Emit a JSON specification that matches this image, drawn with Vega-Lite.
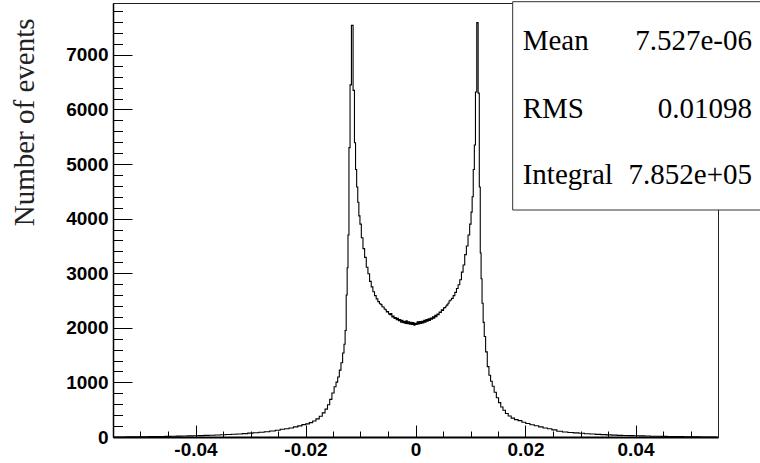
{
  "$schema": "https://vega.github.io/schema/vega-lite/v6.json",
  "description": "ROOT-style histogram with a double peak and a stats box.",
  "width": 605,
  "height": 434,
  "autosize": "none",
  "padding": {"left": 113, "top": 3, "right": 42, "bottom": 26},
  "background": "white",
  "datasets": {
    "hist": [
      {"x": -0.0548, "n": 0}, {"x": -0.054, "n": 1}, {"x": -0.053, "n": 1}, {"x": -0.052, "n": 2},
      {"x": -0.051, "n": 3}, {"x": -0.05, "n": 4}, {"x": -0.049, "n": 5}, {"x": -0.048, "n": 7},
      {"x": -0.047, "n": 8}, {"x": -0.046, "n": 10}, {"x": -0.045, "n": 12}, {"x": -0.044, "n": 14},
      {"x": -0.043, "n": 16}, {"x": -0.042, "n": 19}, {"x": -0.041, "n": 21}, {"x": -0.04, "n": 24},
      {"x": -0.039, "n": 26}, {"x": -0.038, "n": 30}, {"x": -0.037, "n": 32}, {"x": -0.036, "n": 37},
      {"x": -0.035, "n": 40}, {"x": -0.034, "n": 45}, {"x": -0.033, "n": 50}, {"x": -0.032, "n": 56},
      {"x": -0.031, "n": 62}, {"x": -0.03, "n": 71}, {"x": -0.029, "n": 77}, {"x": -0.028, "n": 87},
      {"x": -0.027, "n": 97}, {"x": -0.026, "n": 111}, {"x": -0.025, "n": 125}, {"x": -0.0242, "n": 141},
      {"x": -0.0234, "n": 150}, {"x": -0.0226, "n": 166}, {"x": -0.0218, "n": 186}, {"x": -0.021, "n": 204},
      {"x": -0.0203, "n": 226}, {"x": -0.0196, "n": 240}, {"x": -0.019, "n": 264}, {"x": -0.0184, "n": 292},
      {"x": -0.0178, "n": 332}, {"x": -0.0172, "n": 380}, {"x": -0.0167, "n": 442}, {"x": -0.0162, "n": 510},
      {"x": -0.0158, "n": 592}, {"x": -0.0154, "n": 690}, {"x": -0.015, "n": 805}, {"x": -0.0146, "n": 920},
      {"x": -0.0143, "n": 1005}, {"x": -0.014, "n": 1100}, {"x": -0.0137, "n": 1225}, {"x": -0.0134, "n": 1360},
      {"x": -0.0131, "n": 1540}, {"x": -0.0129, "n": 1700}, {"x": -0.0127, "n": 1950}, {"x": -0.0125, "n": 2600},
      {"x": -0.01235, "n": 3100}, {"x": -0.0122, "n": 3700}, {"x": -0.012, "n": 5300}, {"x": -0.0118, "n": 6450},
      {"x": -0.0115, "n": 7540}, {"x": -0.0112, "n": 6350}, {"x": -0.011, "n": 5390}, {"x": -0.0108, "n": 4900},
      {"x": -0.0106, "n": 4580}, {"x": -0.0104, "n": 4300}, {"x": -0.0102, "n": 4050}, {"x": -0.01, "n": 3900},
      {"x": -0.0097, "n": 3650}, {"x": -0.0094, "n": 3450}, {"x": -0.0091, "n": 3290}, {"x": -0.0088, "n": 3110},
      {"x": -0.0085, "n": 2990}, {"x": -0.0082, "n": 2850}, {"x": -0.0079, "n": 2750}, {"x": -0.0076, "n": 2660},
      {"x": -0.0073, "n": 2590}, {"x": -0.007, "n": 2530}, {"x": -0.0067, "n": 2480}, {"x": -0.0064, "n": 2440},
      {"x": -0.0062, "n": 2425}, {"x": -0.006, "n": 2385}, {"x": -0.0058, "n": 2380}, {"x": -0.0056, "n": 2345},
      {"x": -0.0054, "n": 2330}, {"x": -0.0052, "n": 2290}, {"x": -0.005, "n": 2300}, {"x": -0.0048, "n": 2255},
      {"x": -0.0046, "n": 2240}, {"x": -0.0044, "n": 2260}, {"x": -0.0042, "n": 2200}, {"x": -0.004, "n": 2215},
      {"x": -0.0038, "n": 2170}, {"x": -0.0036, "n": 2190}, {"x": -0.0034, "n": 2150}, {"x": -0.0032, "n": 2175},
      {"x": -0.003, "n": 2130}, {"x": -0.0028, "n": 2150}, {"x": -0.0026, "n": 2105}, {"x": -0.0024, "n": 2140},
      {"x": -0.0022, "n": 2095}, {"x": -0.002, "n": 2120}, {"x": -0.0018, "n": 2080}, {"x": -0.0016, "n": 2130},
      {"x": -0.0014, "n": 2075}, {"x": -0.0012, "n": 2110}, {"x": -0.001, "n": 2065}, {"x": -0.0008, "n": 2100},
      {"x": -0.0006, "n": 2060}, {"x": -0.0004, "n": 2095}, {"x": -0.0002, "n": 2050}, {"x": 0, "n": 2085},
      {"x": 0.0002, "n": 2060}, {"x": 0.0004, "n": 2110}, {"x": 0.0006, "n": 2070}, {"x": 0.0008, "n": 2115},
      {"x": 0.001, "n": 2080}, {"x": 0.0012, "n": 2120}, {"x": 0.0014, "n": 2090}, {"x": 0.0016, "n": 2140},
      {"x": 0.0018, "n": 2105}, {"x": 0.002, "n": 2150}, {"x": 0.0022, "n": 2120}, {"x": 0.0024, "n": 2165},
      {"x": 0.0026, "n": 2135}, {"x": 0.0028, "n": 2180}, {"x": 0.003, "n": 2160}, {"x": 0.0032, "n": 2200},
      {"x": 0.0034, "n": 2175}, {"x": 0.0036, "n": 2230}, {"x": 0.0038, "n": 2205}, {"x": 0.004, "n": 2250},
      {"x": 0.0042, "n": 2240}, {"x": 0.0044, "n": 2290}, {"x": 0.0046, "n": 2280}, {"x": 0.0048, "n": 2330},
      {"x": 0.005, "n": 2320}, {"x": 0.0052, "n": 2365}, {"x": 0.0054, "n": 2370}, {"x": 0.0056, "n": 2400},
      {"x": 0.0058, "n": 2420}, {"x": 0.006, "n": 2450}, {"x": 0.0062, "n": 2490}, {"x": 0.0064, "n": 2510},
      {"x": 0.0067, "n": 2540}, {"x": 0.007, "n": 2590}, {"x": 0.0073, "n": 2650}, {"x": 0.0076, "n": 2720},
      {"x": 0.0079, "n": 2790}, {"x": 0.0082, "n": 2880}, {"x": 0.0085, "n": 3020}, {"x": 0.0088, "n": 3150},
      {"x": 0.0091, "n": 3340}, {"x": 0.0094, "n": 3500}, {"x": 0.0097, "n": 3700}, {"x": 0.01, "n": 3900},
      {"x": 0.0102, "n": 4120}, {"x": 0.0104, "n": 4400}, {"x": 0.0106, "n": 4900}, {"x": 0.0108, "n": 5350},
      {"x": 0.011, "n": 6320}, {"x": 0.01128, "n": 7590}, {"x": 0.0115, "n": 6300}, {"x": 0.0117, "n": 4580},
      {"x": 0.01185, "n": 3370}, {"x": 0.012, "n": 2900}, {"x": 0.0122, "n": 2450}, {"x": 0.0124, "n": 2100},
      {"x": 0.0126, "n": 1840}, {"x": 0.0129, "n": 1560}, {"x": 0.0132, "n": 1290}, {"x": 0.0135, "n": 1130},
      {"x": 0.0138, "n": 1020}, {"x": 0.0141, "n": 930}, {"x": 0.0145, "n": 820}, {"x": 0.0149, "n": 720},
      {"x": 0.0153, "n": 630}, {"x": 0.0157, "n": 550}, {"x": 0.0161, "n": 490}, {"x": 0.0166, "n": 430},
      {"x": 0.0171, "n": 385}, {"x": 0.0177, "n": 345}, {"x": 0.0183, "n": 318}, {"x": 0.019, "n": 300},
      {"x": 0.0197, "n": 270}, {"x": 0.0204, "n": 248}, {"x": 0.0212, "n": 225}, {"x": 0.022, "n": 205},
      {"x": 0.0228, "n": 185}, {"x": 0.0236, "n": 165}, {"x": 0.0244, "n": 150}, {"x": 0.0252, "n": 130},
      {"x": 0.0262, "n": 105}, {"x": 0.0272, "n": 92}, {"x": 0.0282, "n": 82}, {"x": 0.0292, "n": 75},
      {"x": 0.0302, "n": 68}, {"x": 0.0312, "n": 60}, {"x": 0.0322, "n": 54}, {"x": 0.0332, "n": 48},
      {"x": 0.0342, "n": 43}, {"x": 0.0352, "n": 39}, {"x": 0.0362, "n": 34}, {"x": 0.0372, "n": 30},
      {"x": 0.0382, "n": 27}, {"x": 0.0392, "n": 25}, {"x": 0.0402, "n": 22}, {"x": 0.0412, "n": 20},
      {"x": 0.0422, "n": 17}, {"x": 0.0432, "n": 15}, {"x": 0.0442, "n": 13}, {"x": 0.0452, "n": 11},
      {"x": 0.0462, "n": 9}, {"x": 0.0472, "n": 8}, {"x": 0.0482, "n": 6}, {"x": 0.0492, "n": 5},
      {"x": 0.0502, "n": 3}, {"x": 0.0512, "n": 2}, {"x": 0.0522, "n": 1}, {"x": 0.0532, "n": 1},
      {"x": 0.0548, "n": 0}
    ],
    "stats": [
      {"stat": "Mean", "value": "7.527e-06"},
      {"stat": "RMS", "value": "0.01098"},
      {"stat": "Integral", "value": "7.852e+05"}
    ]
  },
  "resolve": {"axis": {"x": "independent", "y": "independent"}},
  "layer": [
    {
      "data": {"name": "hist"},
      "mark": {"type": "line", "interpolate": "step", "color": "black", "strokeWidth": 1.1},
      "encoding": {
        "x": {
          "field": "x",
          "type": "quantitative",
          "scale": {"domain": [-0.055, 0.055], "nice": false, "zero": false},
          "axis": {
            "orient": "bottom",
            "title": null,
            "grid": false,
            "values": [-0.04, -0.02, 0, 0.02, 0.04],
            "labelExpr": "'' + datum.value",
            "labelFont": "Liberation Sans",
            "labelFontWeight": "bold",
            "labelFontSize": 19,
            "labelColor": "black",
            "labelFlush": false,
            "labelPadding": 15,
            "tickSize": -12,
            "tickColor": "black",
            "tickWidth": 1,
            "domainColor": "black",
            "domainWidth": 2
          }
        },
        "y": {
          "field": "n",
          "type": "quantitative",
          "scale": {"domain": [0, 7950], "nice": false},
          "axis": {
            "orient": "left",
            "title": "Number of events",
            "titleFont": "Liberation Serif",
            "titleFontSize": 29,
            "titleFontWeight": "normal",
            "titleColor": "#222",
            "titleAnchor": "end",
            "titleAlign": "right",
            "titleBaseline": "alphabetic",
            "titleX": -80,
            "titleY": 15,
            "grid": false,
            "values": [0, 1000, 2000, 3000, 4000, 5000, 6000, 7000],
            "labelExpr": "'' + datum.value",
            "labelFont": "Liberation Sans",
            "labelFontWeight": "bold",
            "labelFontSize": 19,
            "labelColor": "black",
            "labelFlush": false,
            "labelPadding": 24,
            "tickSize": -19,
            "tickColor": "black",
            "tickWidth": 1,
            "domainColor": "black",
            "domainWidth": 1.5
          }
        }
      }
    },
    {
      "data": {"name": "hist"},
      "mark": {"type": "point", "opacity": 0},
      "encoding": {
        "x": {
          "field": "x",
          "type": "quantitative",
          "axis": {
            "orient": "bottom",
            "title": null,
            "grid": false,
            "labels": false,
            "domain": false,
            "values": [-0.05, -0.045, -0.04, -0.035, -0.03, -0.025, -0.02, -0.015, -0.01, -0.005, 0, 0.005, 0.01, 0.015, 0.02, 0.025, 0.03, 0.035, 0.04, 0.045, 0.05],
            "tickSize": -6,
            "tickColor": "black",
            "tickWidth": 1
          }
        },
        "y": {
          "field": "n",
          "type": "quantitative",
          "axis": {
            "orient": "left",
            "title": null,
            "grid": false,
            "labels": false,
            "domain": false,
            "values": [0, 200, 400, 600, 800, 1000, 1200, 1400, 1600, 1800, 2000, 2200, 2400, 2600, 2800, 3000, 3200, 3400, 3600, 3800, 4000, 4200, 4400, 4600, 4800, 5000, 5200, 5400, 5600, 5800, 6000, 6200, 6400, 6600, 6800, 7000, 7200, 7400, 7600, 7800],
            "tickSize": -9.5,
            "tickColor": "black",
            "tickWidth": 1
          }
        }
      }
    },
    {
      "data": {"values": [{}]},
      "mark": {"type": "rect", "fill": "white", "stroke": "#333", "strokeWidth": 1},
      "encoding": {
        "x": {"datum": 0.01767, "axis": null},
        "x2": {"datum": 0.08},
        "y": {"datum": 4158, "axis": null},
        "y2": {"datum": 7974}
      }
    },
    {
      "data": {"name": "stats"},
      "transform": [{"filter": "datum.stat === 'Mean'"}],
      "encoding": {"y": {"datum": 7089, "axis": null}},
      "layer": [
        {
          "mark": {"type": "text", "align": "left", "baseline": "alphabetic", "font": "Liberation Serif", "fontSize": 29, "color": "black"},
          "encoding": {"x": {"datum": 0.01949, "axis": null}, "text": {"field": "stat"}}
        },
        {
          "mark": {"type": "text", "align": "right", "baseline": "alphabetic", "font": "Liberation Serif", "fontSize": 29, "color": "black"},
          "encoding": {"x": {"datum": 0.06118, "axis": null}, "text": {"field": "value"}}
        }
      ]
    },
    {
      "data": {"name": "stats"},
      "transform": [{"filter": "datum.stat === 'RMS'"}],
      "encoding": {"y": {"datum": 5838, "axis": null}},
      "layer": [
        {
          "mark": {"type": "text", "align": "left", "baseline": "alphabetic", "font": "Liberation Serif", "fontSize": 29, "color": "black"},
          "encoding": {"x": {"datum": 0.01949, "axis": null}, "text": {"field": "stat"}}
        },
        {
          "mark": {"type": "text", "align": "right", "baseline": "alphabetic", "font": "Liberation Serif", "fontSize": 29, "color": "black"},
          "encoding": {"x": {"datum": 0.06118, "axis": null}, "text": {"field": "value"}}
        }
      ]
    },
    {
      "data": {"name": "stats"},
      "transform": [{"filter": "datum.stat === 'Integral'"}],
      "encoding": {"y": {"datum": 4629, "axis": null}},
      "layer": [
        {
          "mark": {"type": "text", "align": "left", "baseline": "alphabetic", "font": "Liberation Serif", "fontSize": 29, "color": "black"},
          "encoding": {"x": {"datum": 0.01949, "axis": null}, "text": {"field": "stat"}}
        },
        {
          "mark": {"type": "text", "align": "right", "baseline": "alphabetic", "font": "Liberation Serif", "fontSize": 29, "color": "black"},
          "encoding": {"x": {"datum": 0.06118, "axis": null}, "text": {"field": "value"}}
        }
      ]
    }
  ],
  "config": {
    "view": {"stroke": "#222", "strokeWidth": 1}
  }
}
